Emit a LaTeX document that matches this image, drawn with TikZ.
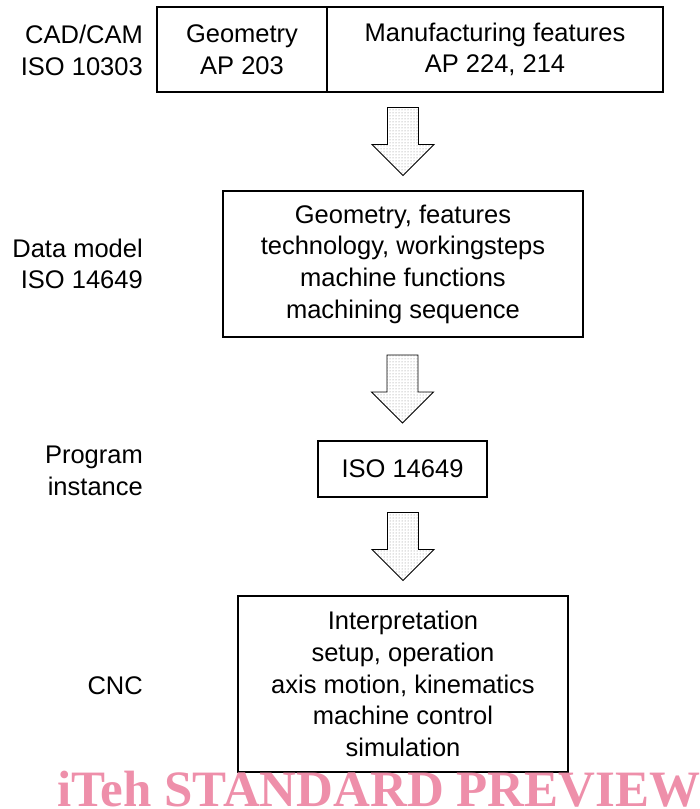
\documentclass[tikz,border=0pt]{standalone}
\usepackage{fontspec}
\setmainfont{Liberation Sans}
\newfontfamily\wmfont{Liberation Serif}
\usepackage{xcolor}
\usepackage{tikz}
\usetikzlibrary{calc}
\usetikzlibrary{patterns}
\usetikzlibrary{positioning}
\definecolor{wmpink}{RGB}{238,143,170}

\begin{document}
\begin{tikzpicture}[x=1pt,y=-1pt,
  box/.style={draw,line width=1.2pt,inner sep=0pt,align=center,font=\fontsize{25.5}{31.7}\selectfont},
  lbl/.style={anchor=east,inner sep=0pt,align=right,font=\fontsize{25.5}{31.7}\selectfont},
  blockarrow/.style={draw,line width=0.9pt,pattern=dots,pattern color=gray}]
\useasboundingbox (0,0) rectangle (700,809);
% boxes
\node[box,minimum width=170,minimum height=85] (geo) at (242,49.5) {Geometry\\AP 203};
\node[box,minimum width=336,minimum height=85] (mfg) at (495,49.5) {Manufacturing features\\AP 224, 214};
\node[box,minimum width=360,minimum height=146] (datamodel) at (403,264) {Geometry, features\\technology, workingsteps\\machine functions\\machining sequence};
\node[box,minimum width=169,minimum height=56] (instance) at (402.5,469) {ISO 14649};
\node[box,minimum width=330,minimum height=176] (cnc) at (403,684) {Interpretation\\setup, operation\\axis motion, kinematics\\machine control\\simulation};
% labels on the left
\node[lbl] (l1) at (143,50.5) {CAD/CAM\\ISO 10303};
\node[lbl] (l2) at (143,264) {Data model\\ISO 14649};
\node[lbl] (l3) at (143,471) {Program\\instance};
\node[lbl] (l4) at (143,686) {CNC};
% arrows
\foreach \from/\to in {mfg/datamodel,datamodel/instance,instance/cnc}
{
\coordinate (m) at ($(\from.south)!0.5!(\to.north)$);
\draw[blockarrow,shift={(m -| \to.north)}] (-15.5,-34) -- (15.5,-34) -- (15.5,3) -- (31,3) -- (0,34) -- (-31,3) -- (-15.5,3) -- cycle;
}
\node[anchor=base west,inner sep=0pt,text=wmpink,font=\wmfont\bfseries\fontsize{51}{51}\selectfont] (wm) at (57,806) {iTeh STANDARD PREVIEW};
\end{tikzpicture}
\end{document}
